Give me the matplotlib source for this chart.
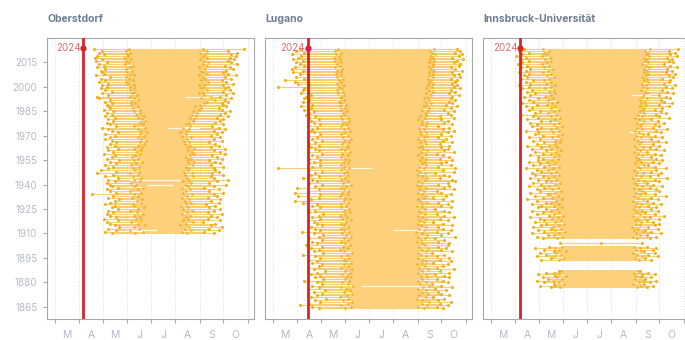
import matplotlib
matplotlib.use("Agg")
import matplotlib.pyplot as plt
import numpy as np

plt.rcParams['font.family'] = ['Inter', 'DejaVu Sans']

stations = ["Oberstdorf", "Lugano", "Innsbruck-Universität"]
marker_2024 = [96, 104, 97]          # day of year of the 2024 marker
month_labels = ["M", "A", "M", "J", "J", "A", "S", "O"]
month_starts = [60, 91, 121, 152, 182, 213, 244, 274, 305]
year_ticks = [1865, 1880, 1895, 1910, 1925, 1940, 1955, 1970, 1985, 2000, 2015]

# ---------------- Oberstdorf (1910-2023) ----------------
obe_years = list(range(1910, 2024))
obe_first = [132,124,138,128,142,136,130,126,140,122,
             138,130,126,134,128,140,132,136,124,130,
             136,142,128,134,107,138,130,126,140,132,
             130,126,136,128,140,124,134,113,138,118,
             128,134,124,138,130,142,126,132,136,122,
             134,128,140,126,136,130,138,132,124,130,
             136,124,140,132,128,120,138,130,126,134,
             128,136,124,132,126,134,122,130,128,126,
             132,124,130,116,114,128,120,132,124,118,
             126,120,128,116,124,118,130,112,122,120,
             118,124,114,122,116,126,112,120,111,114,
             122,116,120,110]
obe_start = [162,172,156,167,160,174,165,157,169,163,
             168,160,172,164,156,166,173,161,159,169,
             164,171,158,166,161,169,156,165,172,160,
             163,157,168,160,170,159,165,156,167,162,
             159,167,157,163,171,160,166,158,162,168,
             164,169,160,171,166,173,168,176,170,165,
             173,168,177,170,165,174,161,172,168,175,
             171,165,173,163,168,160,168,159,165,157,
             162,157,165,160,155,164,158,161,156,160,
             155,161,153,150,159,154,151,160,156,152,
             158,151,155,159,149,154,150,157,148,153,
             152,156,150,154]
obe_end = [228,221,233,225,231,219,226,235,223,229,
           226,232,222,228,236,223,229,220,227,233,
           225,231,221,228,234,223,227,232,222,229,
           226,233,223,230,228,236,225,234,224,229,
           231,226,235,229,237,229,233,227,232,237,
           234,229,237,228,232,225,230,224,228,233,
           221,226,219,228,231,223,232,226,231,235,
           237,232,239,234,241,236,243,246,238,245,
           249,253,263,246,259,250,243,248,253,246,
           249,243,251,255,246,251,248,243,253,248,
           246,251,243,253,248,255,250,245,253,248,
           251,245,253,248]
obe_last = [262,250,268,256,272,258,264,248,270,254,
            266,258,272,254,262,270,256,264,252,268,
            258,270,254,266,262,274,256,268,250,262,
            278,256,266,280,262,258,274,260,268,264,
            262,274,258,270,264,256,272,266,260,276,
            270,262,276,258,268,264,256,272,262,270,
            258,266,272,262,276,268,260,274,264,270,
            274,266,280,270,276,282,272,268,278,274,
            272,280,276,284,270,278,286,274,282,276,
            280,274,286,278,272,284,276,290,280,274,
            278,286,282,276,292,284,280,288,282,290,
            284,292,280,300]
obe_gap_years = [1912, 1940, 1943, 1975, 1994]
obe_gap_from = [151, 177, 155, 202, 225]
obe_gap_to = [190, 210, 219, 244, 261]

# ---------------- Lugano (1864-2023) ----------------
lug_years = list(range(1864, 2024))
lug_first = [118,110,95,106,120,114,128,108,116,122,
             112,126,104,118,110,122,116,100,124,114,
             120,108,116,126,112,104,118,122,110,116,
             106,120,114,98,124,112,118,108,122,102,
             116,110,122,106,118,124,112,97,120,114,
             108,122,116,112,104,120,110,118,124,106,
             114,104,120,110,116,98,88,108,118,92,
             120,88,104,118,91,114,122,106,116,110,
             98,118,108,114,122,104,66,110,120,106,
             112,120,106,116,110,122,104,118,114,108,
             118,106,114,122,110,116,104,120,112,108,
             110,116,104,120,112,108,118,106,114,102,
             106,112,100,108,96,110,104,98,106,100,
             102,108,96,104,98,100,67,106,92,88,
             76,100,90,104,94,86,98,84,88,100,
             94,90,98,86,92,96,84,100,90,94]
lug_start = [152,159,147,155,161,149,156,145,154,160,
             150,158,153,147,162,155,148,157,152,159,
             154,148,158,152,161,146,155,150,159,153,
             150,157,147,154,160,151,145,156,149,158,
             152,146,156,150,159,153,148,157,151,147,
             156,150,146,153,159,148,154,145,152,158,
             151,157,147,153,146,156,150,158,152,145,
             155,148,157,151,146,153,159,149,156,147,
             152,145,156,150,154,147,157,151,146,155,
             150,157,152,146,155,148,158,152,147,156,
             154,148,157,151,159,149,155,146,152,158,
             151,156,147,154,149,157,148,155,146,152,
             149,154,146,152,145,153,147,144,151,146,
             146,151,143,149,142,148,144,150,141,147,
             144,149,141,147,140,146,142,148,139,145,
             142,147,139,145,138,144,140,146,139,143]
lug_end = [252,245,256,249,259,250,243,254,246,257,
           249,255,245,251,258,247,254,244,250,256,
           248,254,244,250,257,246,253,243,249,255,
           251,245,255,248,244,254,249,257,246,253,
           250,243,248,253,245,256,249,242,252,246,
           254,248,244,252,246,255,249,245,253,247,
           246,253,249,243,250,256,247,245,252,254,
           249,244,252,246,254,247,243,250,245,253,
           256,250,245,253,247,243,252,246,254,249,
           253,247,255,250,245,254,248,256,251,246,
           250,255,247,253,245,252,256,248,254,247,
           252,246,254,249,256,250,245,253,247,255,
           254,257,250,259,252,256,261,254,258,252,
           257,261,254,263,258,255,262,257,264,259,
           261,257,264,259,263,258,265,261,259,264,
           263,259,265,260,264,261,266,262,260,265]
lug_last = [276,268,282,272,286,270,278,264,284,274,
            270,280,266,288,274,262,282,276,268,284,
            278,266,284,272,290,268,276,282,264,286,
            272,284,268,278,262,288,274,280,270,282,
            284,270,278,266,292,274,282,268,286,276,
            270,288,276,264,282,272,290,278,268,284,
            278,266,286,274,282,270,288,276,264,280,
            286,274,268,290,278,284,270,282,292,288,
            272,284,278,266,290,276,292,270,286,274,
            280,288,272,284,276,268,290,278,282,274,
            284,272,288,276,280,270,286,274,282,290,
            276,284,270,288,278,282,274,290,272,286,
            282,290,278,286,294,280,288,284,292,286,
            288,296,284,292,286,298,290,294,288,292,
            294,286,298,290,296,288,300,292,286,296,
            298,290,294,302,288,296,300,292,298,294]
lug_gap_years = [1878, 1912, 1950]
lug_gap_from = [172, 212, 152]
lug_gap_to = [258, 252, 186]

# ---------------- Innsbruck-Universität ----------------
inn_years = (list(range(1877, 1888)) + list(range(1894, 1903)) + [1904]
             + list(range(1907, 2024)))
inn_first = [136,122,140,128,118,132,126,142,120,130,146,
             124,136,118,130,122,140,128,116,134,
             148,
             126,118,132,112,128,120,136,114,124,130,
             116,128,122,110,134,118,126,112,130,120,
             124,112,130,118,106,126,116,132,110,122,
             118,128,108,124,114,130,120,110,126,116,
             112,124,118,104,128,114,122,108,120,126,
             120,110,126,116,130,112,124,106,118,128,
             114,122,108,126,116,120,104,118,124,112,
             118,110,124,106,120,114,98,116,122,108,
             112,104,118,100,114,108,120,102,110,116,
             106,112,100,108,96,110,104,114,98,106,
             102,108,96,104,110,98,106,94,100,108,
             98,104,92,100,108,96,102]
inn_start = [148,141,153,146,139,151,144,155,147,140,149,
             146,153,140,149,143,156,147,142,151,
             200,
             144,151,140,147,154,142,149,139,146,153,
             142,149,138,145,152,140,147,137,144,151,
             140,147,136,143,150,138,145,135,142,149,
             138,145,134,141,148,136,143,133,140,147,
             136,143,132,139,146,134,141,131,138,145,
             140,147,136,143,149,137,144,134,141,148,
             142,149,138,145,151,139,146,136,143,150,
             140,146,135,142,148,136,143,133,140,147,
             136,142,131,138,144,132,139,129,136,142,
             134,140,129,136,142,130,137,127,134,140,
             131,137,126,133,139,127,134,125,131,137,
             129,135,125,131,128,134,126]
inn_end = [246,251,241,248,253,243,249,244,252,242,247,
           248,243,252,246,241,251,245,250,242,
           200,
           246,240,250,244,253,242,247,239,249,245,
           251,243,247,254,241,249,245,252,242,248,
           243,251,246,240,253,247,242,250,245,252,
           248,242,252,246,243,254,247,241,251,245,
           253,246,242,250,247,255,243,251,246,248,
           245,252,247,242,250,246,253,243,248,251,
           247,242,251,245,253,248,243,252,246,250,
           251,246,254,248,243,252,247,255,249,253,
           254,249,257,251,256,250,258,252,255,259,
           256,251,259,253,257,252,260,254,258,253,
           257,260,254,259,255,261,257,252,260,256,
           259,255,261,257,260,256,262]
inn_last = [258,266,254,262,270,256,264,252,268,260,250,
            264,256,272,260,268,254,266,270,258,
            252,
            262,270,258,276,264,256,272,260,268,274,
            266,258,274,262,280,268,256,272,264,270,
            260,276,266,258,272,264,282,268,256,274,
            270,262,278,266,258,274,268,284,262,272,
            276,264,270,282,268,260,274,266,278,270,
            264,276,268,258,280,270,262,274,266,282,
            272,264,278,268,260,276,270,284,266,274,
            268,280,272,264,286,274,270,282,276,268,
            278,286,274,290,280,276,288,282,274,292,
            284,278,290,282,294,280,286,288,278,292,
            286,294,282,290,284,296,288,280,292,286,
            290,284,296,288,294,286,298]
inn_gap_years = [1972, 1995]
inn_gap_from = [236, 238]
inn_gap_to = [258, 261]

data = [
    (obe_years, obe_first, obe_start, obe_end, obe_last, obe_gap_years, obe_gap_from, obe_gap_to),
    (lug_years, lug_first, lug_start, lug_end, lug_last, lug_gap_years, lug_gap_from, lug_gap_to),
    (inn_years, inn_first, inn_start, inn_end, inn_last, inn_gap_years, inn_gap_from, inn_gap_to),
]

FILL = "#FDD17C"
LINE = "#F5C252"
DOT = "#F2AF1E"
RED = "#D8232A"
TXT = "#B4BAC6"
TITLE = "#6E7C96"
SPINE = "#A8A8A8"

W, H = 685, 340
fig = plt.figure(figsize=(W / 100, H / 100), dpi=100)
lefts = [47, 265, 483]
mid_months = [(month_starts[i] + month_starts[i + 1]) / 2 for i in range(8)]

for k, (name, mk, d, lp) in enumerate(zip(stations, marker_2024, data, lefts)):
    years, first, start, end, last, gy, gf, gt = d
    years = np.array(years); first = np.array(first); start = np.array(start)
    end = np.array(end); last = np.array(last)
    ax = fig.add_axes([lp / W, 21 / H, 207 / W, 281 / H])
    ax.set_xlim(50, 313)
    ax.set_ylim(1857.5, 2030)
    for m in month_starts:
        ax.axvline(m, color="#D4D4D4", lw=0.6, ls=(0, (1, 2)), zorder=0)
    ax.hlines(years, first, last, color=LINE, lw=0.8, alpha=0.8, zorder=1)
    ax.barh(years, end - start, left=start, height=1.0, color=FILL, lw=0,
            antialiased=False, zorder=2)
    ax.hlines(gy, gf, gt, color="#FFF8E8", lw=0.9, zorder=2.5)
    for arr in (first, last):
        ax.scatter(arr, years, s=5, color=DOT, lw=0, zorder=3)
    for arr in (start, end):
        ax.scatter(arr, years, s=4, color=DOT, lw=0, alpha=0.85, zorder=3)
    ax.axvline(mk, color=RED, lw=2, zorder=4)
    ax.plot([mk], [2024], "o", color=RED, ms=3.5, zorder=5)
    ax.text(mk - 3, 2024, "2024", ha="right", va="center", color="#E8686E",
            fontsize=7, zorder=5)

    ax.set_xticks(month_starts)
    ax.set_xticklabels([])
    ax.set_xticks(mid_months, minor=True)
    ax.set_xticklabels(month_labels, minor=True)
    ax.tick_params(axis="x", which="major", length=3, color=SPINE, width=0.8)
    ax.tick_params(axis="x", which="minor", length=0, pad=8, labelsize=7.5,
                   labelcolor=TXT)
    if k == 0:
        ax.set_yticks(year_ticks)
        ax.set_yticklabels([str(y) for y in year_ticks])
        ax.tick_params(axis="y", length=3, color=SPINE, width=0.8, labelsize=7,
                       labelcolor=TXT, pad=4)
    else:
        ax.set_yticks([])
    for s in ax.spines.values():
        s.set_color(SPINE)
        s.set_linewidth(0.8)
    ax.text(0.0, 1.0 + 19 / 281, name, transform=ax.transAxes, ha="left",
            va="center", fontsize=7.5, fontweight="bold", color=TITLE)

fig.savefig("out.png", dpi=100)
